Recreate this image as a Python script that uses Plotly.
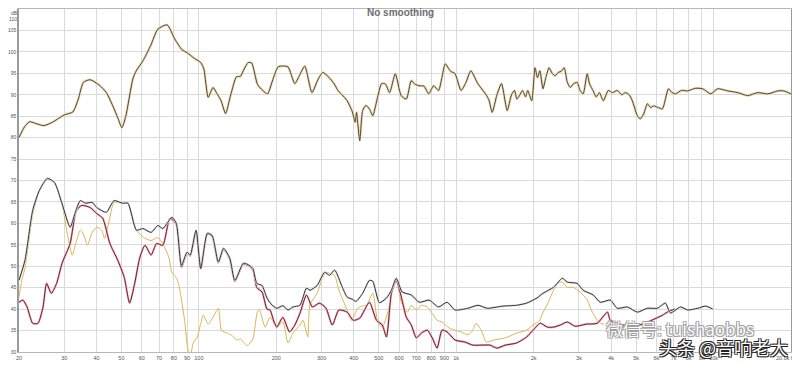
import numpy as np
import plotly.graph_objects as go

# ---------------- data ----------------
top_freq = [20, 21, 22, 23.5, 25, 27, 30, 32.4, 34, 35.6, 37.8, 41.1, 43.7, 46.3, 48.5, 50.2, 52, 55.4, 57,
            60.6, 65, 69.3, 75.3, 80.6, 86, 90, 96, 101.7, 104.6, 108.7, 113.5, 117, 122, 127, 133, 140, 145,
            150, 155.3, 160.4, 169, 177, 185, 193, 203, 211, 222, 236, 246, 258, 275, 290, 303, 321, 336, 348,
            360, 377, 395, 405, 410, 415, 422, 433, 446, 460, 474, 493, 513, 531, 551, 580, 611, 640, 669, 690,
            717, 750, 782, 817, 854, 880, 907, 950, 990, 1044, 1090, 1140, 1213, 1300, 1340, 1380, 1440, 1500,
            1578, 1640, 1686, 1720, 1761, 1810, 1860, 1896, 1966, 2024, 2070, 2115, 2173, 2230, 2295, 2360,
            2422, 2491, 2560, 2628, 2700, 2774, 2850, 2950, 3030, 3114, 3229, 3300, 3408, 3500, 3600, 3729,
            3899, 4050, 4227, 4400, 4541, 4700, 4835, 5057, 5194, 5350, 5531, 5700, 5838, 6100, 6328, 6682,
            6900, 7116, 7500, 7929, 8500, 9074, 9750, 10370, 11350, 12420, 13580, 14850, 16250, 17770, 18760,
            20000]
top_db = [80.0, 82.5, 83.7, 83.2, 82.8, 83.6, 85.3, 86.0, 89, 92.9, 93.5, 92.2, 90.5, 87.4, 84.5, 82.3, 85,
          93.7, 95.5, 97.9, 101.5, 105.3, 106.3, 103, 100.5, 99.8, 98.5, 97.5, 96, 89.4, 91.7, 90.5, 88.6, 85.6,
          90, 94.2, 94.3, 96, 97.5, 97.4, 92.4, 91, 90.2, 93.2, 96.5, 96.7, 96.5, 92.6, 94.5, 96.7, 90.5, 93.5,
          95.2, 94, 92.5, 90.9, 90, 88.6, 86, 83.6, 85.9, 83, 79.3, 86.3, 87.5, 86.7, 85.1, 89, 92.6, 92.5, 90.5,
          94.9, 89.8, 89, 93.3, 92.5, 92.1, 92, 90.2, 92.1, 91, 94, 97.2, 95.5, 94.9, 91, 92.8, 95.6, 92.6, 90.2,
          88.8, 85.9, 90, 92.6, 86.3, 90, 91, 89, 89.8, 91, 89.5, 91, 88.6, 96.3, 94, 95.6, 91.4, 94, 96.3, 95,
          94.4, 95.2, 95.5, 96.3, 93, 91.7, 92.5, 92.9, 91, 90.2, 94.9, 92.5, 90.9, 89.5, 90.5, 88.6, 91, 90.5,
          91, 90, 90.5, 90, 88.6, 85.1, 84.4, 85.5, 87.9, 87, 87.4, 87, 86.7, 91.4, 90.5, 90.2, 91, 90.9, 91.5,
          91.4, 90.2, 91.4, 90.9, 90.5, 89.8, 90.5, 90.2, 90.9, 90.9, 90.2]

sum_freq = [20, 21.1, 22.6, 24.0, 25.8, 27.5, 29.4, 31.6, 33.0, 34.6, 36.3, 38.5, 40.1, 43.7, 46.8, 50.6, 53,
            57.2, 60.6, 65.2, 69.3, 72.4, 78.6, 81.7, 85.6, 90, 92.5, 97.5, 101.7, 107.9, 112.6, 119, 124.7,
            131.8, 138, 148.8, 155, 162, 168, 176, 184, 192, 201, 212, 222, 232, 247, 262, 270, 288, 308, 322,
            337, 361, 377, 395, 408, 433, 460, 474, 503, 536, 560, 585, 617, 669, 719, 785, 854, 921, 990, 1110,
            1215, 1322, 1516, 1716, 1878, 2060, 2175, 2390, 2586, 2700, 2950, 3114, 3408, 3630, 3970, 4227,
            4627, 5060, 5530, 6050, 6500, 6800, 7440, 7930, 8680, 9330, 9930]
sum_db = [46.7, 51.4, 63, 67.7, 70.5, 69.5, 64.6, 59.1, 62.3, 65.3, 64.7, 64.9, 63.7, 62.6, 65.3, 64.7, 64.7,
          58.4, 58.8, 57.9, 59.5, 58.8, 61.4, 60, 50.2, 53.3, 52.6, 58.4, 49.5, 57.7, 57.2, 51, 54.2, 51.9, 46.7,
          50.7, 50.4, 49.5, 46, 45.5, 42.6, 41, 40.2, 40.8, 39.8, 40.5, 40.9, 44.9, 44.4, 45.5, 48.6, 47.9, 49.1,
          45.1, 42.8, 42.3, 41.8, 43.7, 46.7, 46.5, 41.5, 42.6, 44.4, 47.2, 44, 43.3, 41.6, 42.1, 40.5, 41.6,
          39.8, 40.2, 40.9, 40.2, 40.7, 40.9, 41.4, 42.6, 43.7, 45.1, 47.2, 46.3, 46, 44.4, 43.3, 41.6, 42.1,
          40.2, 40.5, 39.3, 40.2, 40.2, 41.4, 39.1, 40.5, 39.8, 40.2, 40.7, 40]

red_freq = [20, 20.7, 21.5, 22.6, 23.7, 24.8, 25.6, 26.7, 28, 29.4, 31.6, 33.4, 35.1, 37.8, 40.1, 42.3, 45.1,
            48.4, 51.3, 53.8, 56.3, 59, 61.8, 65.2, 68.5, 72.4, 77.2, 81.7, 85.6, 90, 92.5, 97.5, 101.7, 107.9,
            112.6, 119, 124.7, 131.8, 138, 148.8, 155, 162, 168, 176, 184, 189, 196, 201, 212, 225, 236, 247,
            262, 276, 294, 312, 330, 350, 377, 398, 422, 460, 490, 516, 536, 560, 585, 612, 640, 669, 700, 732,
            772, 807, 843, 881, 921, 990, 1084, 1161, 1252, 1354, 1440, 1550, 1716, 1878, 1990, 2120, 2260,
            2390, 2540, 2700, 2900, 3200, 3530, 3870, 3970, 4300, 4800, 5300, 5800, 6300, 6700, 7100]
red_db = [41.6, 42.1, 40.5, 36.7, 36.7, 40.5, 46, 43.7, 46, 50.7, 55.3, 63, 64.2, 63.7, 62.3, 61.2, 55.3, 51.4,
          47.4, 41.4, 46, 52.1, 54.9, 52.6, 55.3, 54.9, 61.2, 59.8, 49.8, 53.1, 52.4, 58.2, 49.4, 57.5, 57, 50.8,
          54, 51.7, 46.5, 50.5, 50.2, 49.2, 45, 44, 40, 39.8, 37, 35.8, 38.1, 34.7, 36.3, 39, 43.3, 40.5, 41.4,
          40.2, 36.3, 39.8, 39.3, 37.4, 37.9, 41.6, 37.4, 36.3, 33.5, 43.7, 46.7, 42.8, 38.1, 36.3, 33.3, 34.4,
          35.1, 33.3, 30.9, 35.1, 34.7, 32.8, 32.3, 31.6, 31.6, 31.6, 30.9, 31.6, 32.1, 33.5, 35.1, 36.7, 35.8,
          35.8, 36.3, 37, 36, 36.5, 36.7, 39.3, 37.4, 36.5, 36, 36.5, 37.5, 38.5, 39.5, 40]

yel_freq = [20, 20.5, 21.1, 22.6, 24, 25.8, 27.5, 29.4, 30.8, 32.2, 33.3, 34.6, 35.6, 36.9, 38.5, 40.1, 41.9,
            43, 45.1, 46.8, 50.1, 53, 57.2, 61.8, 65.2, 69.3, 72.4, 76.4, 78.6, 82, 84.5, 88, 90.9, 93, 95,
            98.6, 101.7, 104, 108.7, 113.5, 119, 122.6, 129, 135, 140, 145, 154, 162, 169, 172, 181, 189, 201,
            212, 222, 232, 247, 254, 265, 270, 288, 303, 312, 322, 337, 350, 377, 392, 415, 441, 448, 474, 496,
            516, 551, 565, 585, 612, 646, 669, 700, 732, 772, 807, 843, 881, 938, 990, 1044, 1110, 1161, 1193,
            1252, 1310, 1400, 1550, 1716, 1878, 1990, 2115, 2150, 2280, 2390, 2490, 2586, 2700, 2845, 3030,
            3230, 3350, 3530, 3630, 3750]
yel_db = [42.8, 46.7, 49.5, 62, 67.5, 70.3, 69.3, 64.4, 57.7, 52.6, 55.5, 58.4, 57.5, 54.9, 57.9, 59.1, 58.4,
          56.5, 61.4, 64.9, 64.7, 64.7, 58.4, 56.5, 56, 56.7, 55.3, 52.1, 48.5, 47.2, 44.2, 37.4, 30.3, 29.5,
          32.1, 33.5, 36.7, 38.6, 36.5, 38.1, 40.2, 35, 34.4, 33.8, 32.8, 33, 31.5, 33, 39.5, 39.8, 35.8, 38.1,
          35.8, 37, 32.1, 34.4, 36.3, 37.4, 33.5, 41, 43.7, 47.4, 48.6, 48.4, 47.9, 44.4, 39.8, 37.4, 40.2, 40.9,
          40.9, 43.7, 37, 35.8, 40.9, 45.1, 46.7, 41.6, 39.3, 40.9, 39.8, 40.9, 40.5, 39, 37.4, 37, 35.6, 35.1,
          34.7, 34, 35.1, 36.7, 35.1, 32.3, 32.8, 33.3, 34.4, 35.1, 36.3, 37.4, 38.6, 41.6, 44.4, 46, 46.3,
          45.1, 45.1, 44, 42.1, 39.8, 37.4, 36.7, 36.5]

x_tick_vals = [20, 30, 40, 50, 60, 70, 80, 90, 100, 200, 300, 400, 500, 600, 700, 800, 900,
               1000, 2000, 3000, 4000, 5000, 6000, 7000, 8000, 9000, 10000]
x_tick_text = ["20", "30", "40", "50", "60", "70", "80", "90", "100", "200", "300", "400", "500", "600",
               "700", "800", "900", "1k", "2k", "3k", "4k", "5k", "6k", "7k", "8k", "9k", "10k"]
y_tick_vals = list(range(30, 106, 5))
y_tick_text = [str(v) for v in y_tick_vals]
y_top_label = "110"

# ---------------- figure ----------------
# The page body has an 8 px margin, so the figure is 8 px smaller than the window
# and all page positions below are shifted by 8 px.
OFF = 8
PL, PR, PT, PB = 19, 791, 9, 352          # plot area in page pixels
PW, PH = PR - PL, PB - PT

def px(x):
    return (x - PL) / PW

def py(y):
    return (PB - y) / PH

fig = go.Figure()

def add_line(x, y, color, width, smooth=0.6):
    fig.add_trace(go.Scatter(x=x, y=y, mode="lines", hoverinfo="skip",
                             line=dict(color=color, width=width, shape="spline", smoothing=smooth)))

add_line(top_freq, top_db, "#eadcb2", 2.6)
add_line(top_freq, top_db, "#54453e", 1.0)
add_line(yel_freq, yel_db, "#dbb652", 1.0)
add_line(red_freq, red_db, "#f0b8c2", 2.2)
add_line(red_freq, red_db, "#6e1c2a", 1.0)
add_line(sum_freq, sum_db, "#e2e2e2", 2.2)
add_line(sum_freq, sum_db, "#303030", 1.0)

tick_font = dict(family="Liberation Sans, Arial, sans-serif", size=5.5, color="#555555")
ytick_font = dict(family="Liberation Sans, Arial, sans-serif", size=5, color="#555555")

fig.update_xaxes(type="log", range=[np.log10(20), np.log10(20000)],
                 tickmode="array", tickvals=x_tick_vals + [20000], ticktext=x_tick_text + [""],
                 tickangle=0, automargin=False, ticklen=0, ticklabelstandoff=0,
                 tickfont=tick_font, showgrid=True, gridcolor="#dadada", gridwidth=1,
                 showline=True, linecolor="#b8b8b8", linewidth=1, mirror=True,
                 ticks="", zeroline=False)
fig.update_yaxes(range=[30, 110], tickmode="array", tickvals=y_tick_vals + [110],
                 ticktext=y_tick_text + [""], automargin=False,
                 ticklen=0, ticklabelstandoff=0,
                 tickfont=ytick_font, showgrid=True, gridcolor="#dadada", gridwidth=1,
                 showline=True, linecolor="#9a9a9a", linewidth=1.5, mirror=True,
                 ticks="", zeroline=False)

fig.update_layout(
    width=800 - OFF, height=365 - OFF,
    margin=dict(l=PL - OFF, r=800 - PR, t=PT - OFF, b=365 - PB, pad=0),
    paper_bgcolor="white", plot_bgcolor="white",
    showlegend=False,
    annotations=[
        dict(text="No smoothing", xref="paper", yref="paper", x=px(400), y=py(13),
             xanchor="center", yanchor="middle", showarrow=False,
             font=dict(family="Liberation Sans, Arial, sans-serif", size=10, color="#6e6e6e", weight="bold")),
        dict(text="dB", xref="paper", yref="paper", x=px(9), y=py(8),
             xanchor="left", yanchor="top", showarrow=False,
             font=dict(family="Liberation Sans, Arial, sans-serif", size=5, color="#555555")),
        dict(text=y_top_label, xref="paper", yref="paper", x=px(18.5), y=py(14),
             xanchor="right", yanchor="top", showarrow=False, font=ytick_font),
        dict(text="20.0k Hz", xref="paper", yref="paper", x=px(800), y=py(353),
             xanchor="right", yanchor="top", showarrow=False, font=tick_font),
        dict(text="微信号: tuishaobbs", xref="paper", yref="paper", x=px(604), y=py(328),
             xanchor="left", yanchor="middle", showarrow=False,
             font=dict(family="Noto Sans CJK SC", size=17, color="rgba(255,255,255,0.95)",
                       shadow="-1px -1px 0 #a0a0a0, 1px -1px 0 #a0a0a0, -1px 1px 0 #a0a0a0, 1px 1px 0 #a0a0a0")),
        dict(text="头条 @音响老大", xref="paper", yref="paper", x=px(790), y=py(347),
             xanchor="right", yanchor="middle", showarrow=False,
             font=dict(family="Noto Sans CJK SC", size=18, color="white",
                       shadow="-1px -1px 0 #222, 1px -1px 0 #222, -1px 1px 0 #222, 1px 1px 0 #222")),
    ],
)

fig.write_html("out.html")
